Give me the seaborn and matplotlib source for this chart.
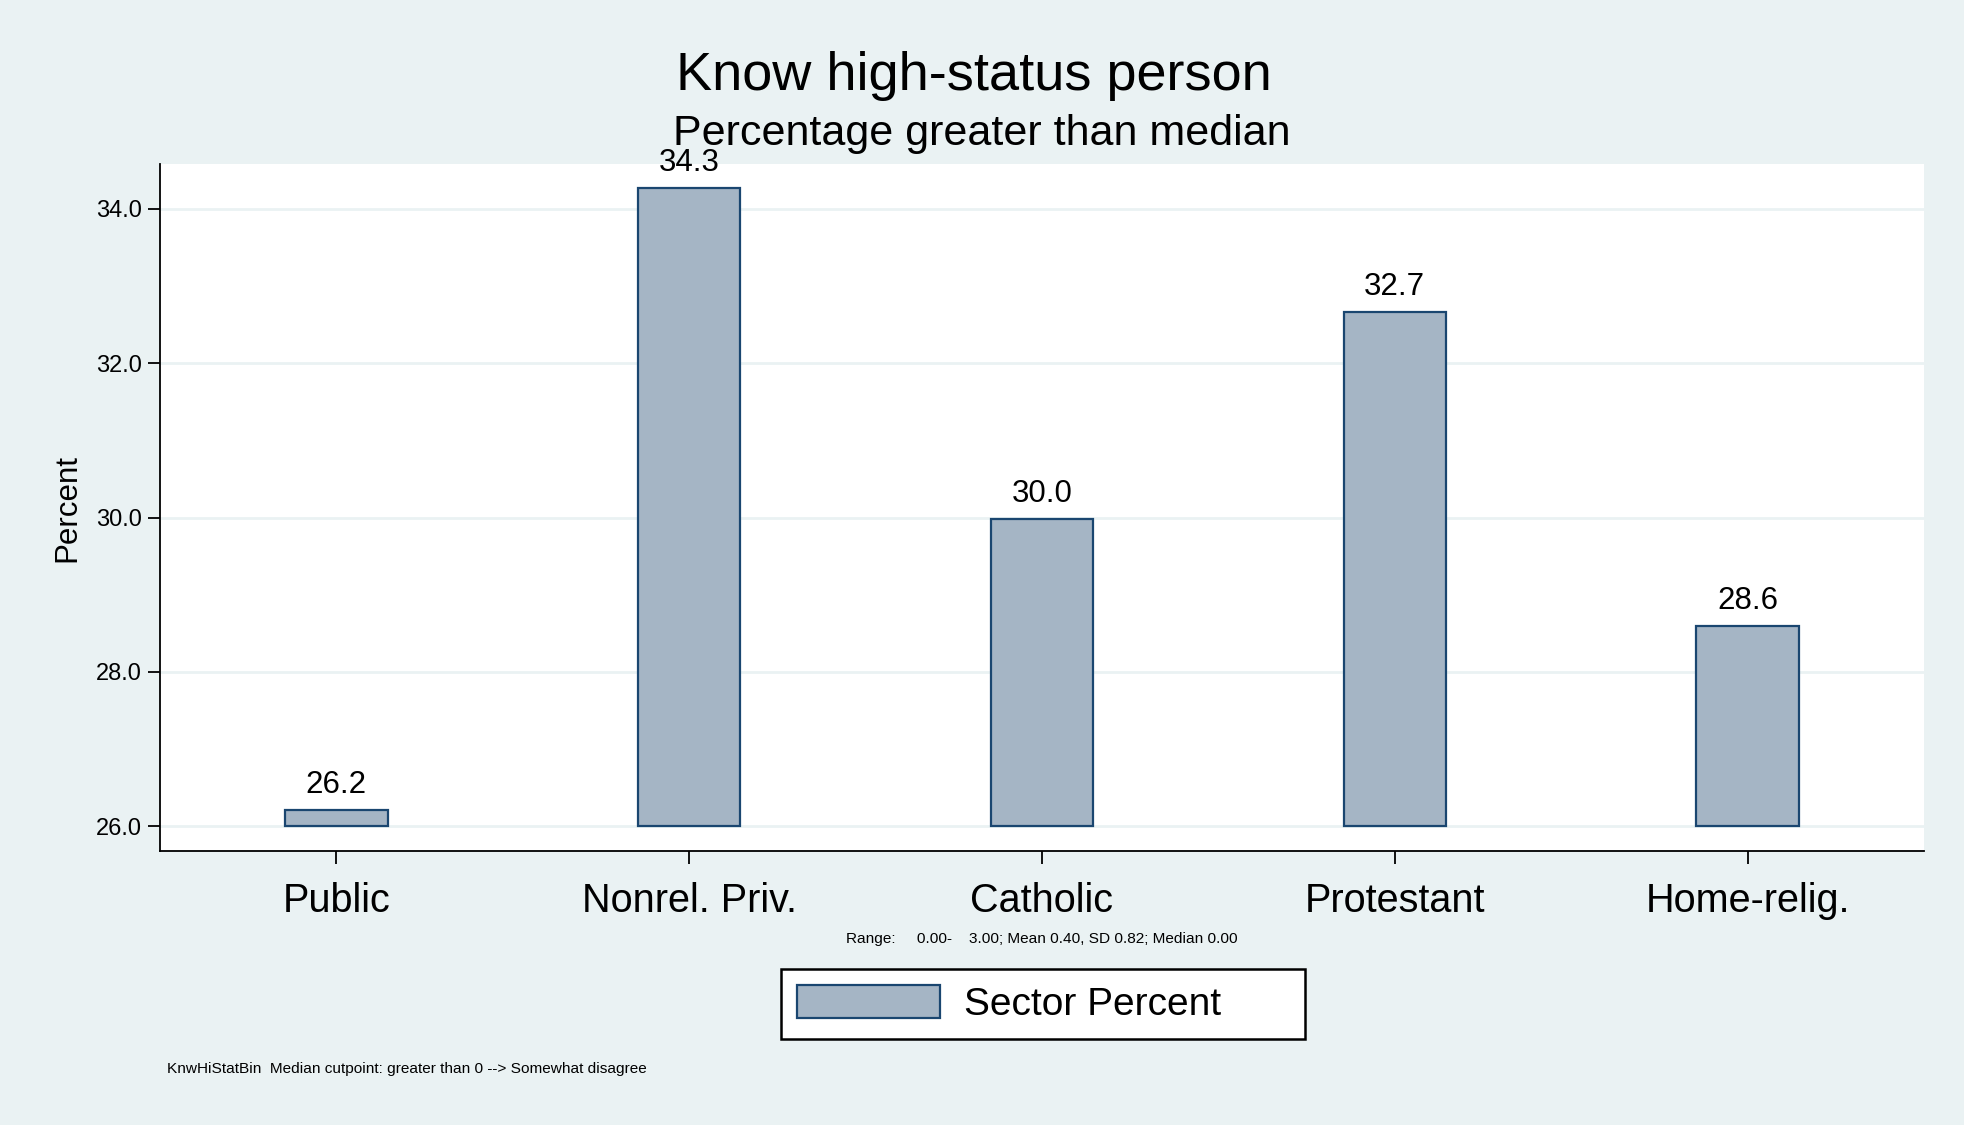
import matplotlib
matplotlib.use("Agg")
import matplotlib.pyplot as plt
import seaborn as sns
import pandas as pd
from matplotlib.patches import Patch

sectors = ["Public", "Nonrel. Priv.", "Catholic", "Protestant", "Home-relig."]
percent = [26.21, 34.27, 29.98, 32.66, 28.59]
y_ticks = [26.0, 28.0, 30.0, 32.0, 34.0]
base = 26.0

bg = "#eaf2f3"
bar_fill = "#a5b5c5"
bar_edge = "#1a4670"

sns.set_theme(style="white")
plt.rcParams["font.family"] = ["Liberation Sans", "DejaVu Sans"]
plt.rcParams["text.color"] = "black"
plt.rcParams["axes.labelcolor"] = "black"
plt.rcParams["xtick.color"] = "black"
plt.rcParams["ytick.color"] = "black"

df = pd.DataFrame({"sector": sectors, "pct": percent})
df["height"] = df["pct"] - base

fig = plt.figure(figsize=(19.65, 11.25), dpi=100, facecolor=bg)
ax = fig.add_axes([160 / 1965, 1 - 851 / 1125, (1924 - 160) / 1965, (851 - 164) / 1125])
ax.set_facecolor("white")

sns.barplot(data=df, x="sector", y="height", bottom=base, ax=ax, width=0.29,
            color=bar_fill, edgecolor=bar_edge, linewidth=1.6, saturation=1)

# value labels above each bar
for i, v in enumerate(percent):
    ax.text(i, v + 0.13, f"{v:.1f}", ha="center", va="bottom", fontsize=22.5)

ax.set_xlim(-0.5, 4.5)
ax.set_ylim(25.68, 34.58)
ax.set_yticks(y_ticks)
ax.set_yticklabels([f"{t:.1f}" for t in y_ticks], fontsize=17)
ax.tick_params(axis="x", labelsize=28.5, length=9, width=1.3, direction="out", bottom=True, pad=13)
ax.tick_params(axis="y", length=9, width=1.3, direction="out", left=True, pad=4)
ax.yaxis.grid(True, color=bg, linewidth=2)
ax.set_axisbelow(True)
ax.set_xlabel("")
ax.set_ylabel("Percent", fontsize=22.5, labelpad=10)
for s in ["top", "right"]:
    ax.spines[s].set_visible(False)
for s in ["left", "bottom"]:
    ax.spines[s].set_color("black")
    ax.spines[s].set_linewidth(1.3)

fig.text(0.4955, 1 - 76 / 1125, "Know high-status person", ha="center", va="center", fontsize=39)
fig.text(0.4994, 1 - 134 / 1125, "Percentage greater than median", ha="center", va="center", fontsize=31)
fig.text(1042 / 1965, 1 - 939 / 1125,
         "Range:     0.00-    3.00; Mean 0.40, SD 0.82; Median 0.00",
         ha="center", va="center", fontsize=11.1)
fig.text(167 / 1965, 1 - 1069 / 1125,
         "KnwHiStatBin  Median cutpoint: greater than 0 --> Somewhat disagree",
         ha="left", va="center", fontsize=11.1)

handle = Patch(facecolor=bar_fill, edgecolor=bar_edge, linewidth=1.6)
leg = fig.legend([handle], ["Sector Percent"], loc="center", mode="expand",
                 bbox_to_anchor=(781 / 1965, 1 - 1039 / 1125, 524 / 1965, 70 / 1125),
                 fontsize=28, frameon=True, fancybox=False, edgecolor="black",
                 handlelength=3.7, handleheight=0.94, handletextpad=0.6,
                 borderpad=0.4, borderaxespad=0)
leg.get_frame().set_linewidth(1.8)
leg.get_frame().set_facecolor("white")
leg.get_frame().set_alpha(1)

fig.savefig("out.png", dpi=100, facecolor=bg)
